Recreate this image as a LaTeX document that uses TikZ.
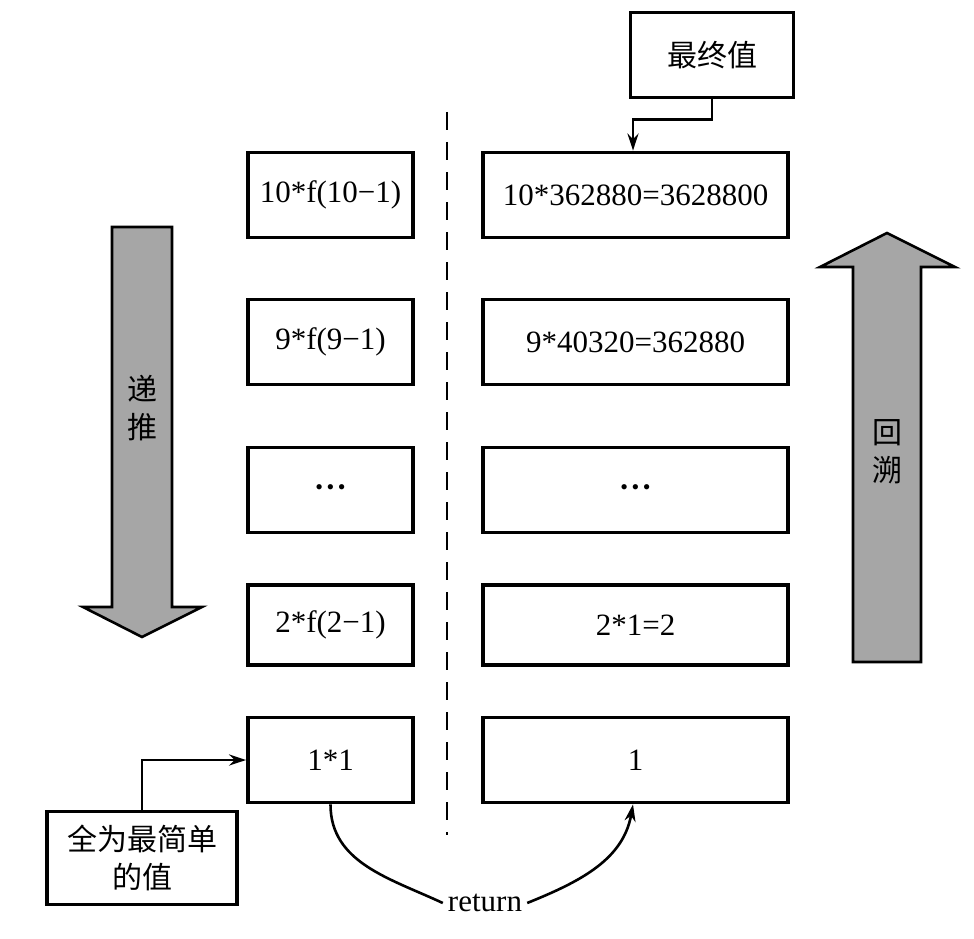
\documentclass[tikz,border=0pt]{standalone}
\usepackage{fontspec}
\setmainfont{Liberation Serif}
\newfontfamily\cjk{Noto Sans CJK SC}
\usepackage{xcolor}
\usetikzlibrary{arrows.meta}
\definecolor{arrowgray}{RGB}{166,166,166}
\newcommand{\dotrow}{{\fontsize{22}{26}\selectfont •\kern3.5pt•\kern3.5pt•}}

\tikzset{
  box/.style={draw, line width=3.8pt, minimum height=85pt, inner sep=0pt,
    font=\fontsize{31}{36}\selectfont},
  lbox/.style={box, minimum width=165pt},
  rbox/.style={box, minimum width=305pt},
  link/.style={line width=2.6pt, -{Stealth[length=17pt,width=11pt]}},
  bigarrow/.style={draw, line width=2.6pt, fill=arrowgray, line join=miter},
  cjktext/.style={font=\cjk\fontsize{30}{38}\selectfont, align=center},
}

\begin{document}
\begin{tikzpicture}[x=1pt,y=1pt]
        \useasboundingbox (0,0) rectangle (974,-939);
        % left column
        \node[lbox] (l1) at (330.5,-195) {10*f(10−1)};
        \node[lbox] (l2) at (330.5,-342) {9*f(9−1)};
        \node[lbox] (l3) at (330.5,-490) {\dotrow};
        \node[lbox, minimum height=80pt] (l4) at (330.5,-625) {2*f(2−1)};
        \node[lbox] (l5) at (330.5,-760) {1*1};
        % right column
        \node[rbox] (r1) at (635.5,-195) {10*362880=3628800};
        \node[rbox] (r2) at (635.5,-342) {9*40320=362880};
        \node[rbox] (r3) at (635.5,-490) {\dotrow};
        \node[rbox, minimum height=80pt] (r4) at (635.5,-625) {2*1=2};
        \node[rbox] (r5) at (635.5,-760) {1};
        \draw[line width=2.8pt, dash pattern=on 18pt off 12pt] (447,-112) -- (447,-835);
        % labels
        \node[box, minimum width=163pt, cjktext] (final) at (712,-55) {最终值};
        \node[box, minimum width=190pt, minimum height=93pt, cjktext] (simplest) at (142,-858) {全为最简单\\的值};
        \node[font=\fontsize{31}{36}\selectfont, inner sep=5pt] (ret) at (485,-903) {return};
        \draw[link] (final.south) -- ++(0,-20) -| ([xshift=-2.5pt]r1.north);
        \draw[link] (simplest.north) |- (l5.west);
        \draw[line width=2.6pt] (l5.south) to[out=-90,in=155] (ret.west);
        \draw[link] (ret.east) to[out=22,in=-100] ([xshift=-2.5pt]r5.south);
        % big arrows
        \draw[bigarrow] (112,-227) -- (172,-227) -- (172,-607) -- (202,-607) -- (142,-637)
          -- (83,-607) -- (112,-607) -- cycle;
        \draw[bigarrow] (853,-662) -- (921,-662) -- (921,-267) -- (955,-267) -- (887,-233)
          -- (820,-267) -- (853,-267) -- cycle;
        \node[cjktext, inner sep=0pt] (down) at (142,-408) {递\\推};
        \node[cjktext, inner sep=0pt] (up) at (887,-452) {回\\溯};
    \end{tikzpicture}
\end{document}
